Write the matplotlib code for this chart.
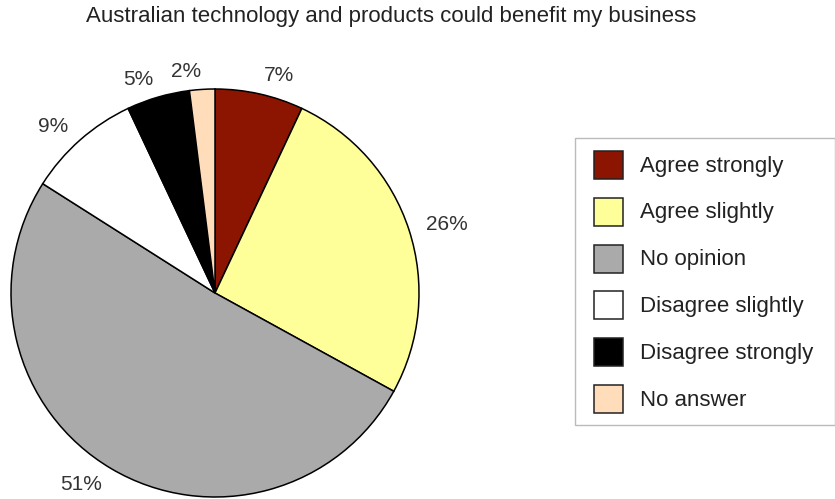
import numpy as np
import matplotlib.pyplot as plt
from matplotlib.patches import Rectangle

categories = ["Agree strongly", "Agree slightly", "No opinion",
              "Disagree slightly", "Disagree strongly", "No answer"]
shares = [7, 26, 51, 9, 5, 2]
colors = ["#8B1500", "#FFFF99", "#AAAAAA", "#FFFFFF", "#000000", "#FFDDBB"]

plt.rcParams["font.family"] = ["Liberation Sans", "DejaVu Sans"]

W, H = 835, 499
fig = plt.figure(figsize=(W / 100, H / 100), dpi=100)
ax = fig.add_axes([0, 0, 1, 1])

# pie drawn in pixel units, clockwise from 12 o'clock
cx, cy, r = 215, H - 293, 204
wedges, texts, autotexts = ax.pie(
    shares, colors=colors, startangle=90, counterclock=False,
    center=(cx, cy), radius=r, frame=True,
    autopct=lambda p: f"{p:.0f}%", pctdistance=1.09,
    wedgeprops=dict(edgecolor="black", linewidth=1.1),
    textprops=dict(fontsize=15, color="#333333"),
)
# anchor percentage labels on the side facing the pie
for t in autotexts:
    x, _ = t.get_position()
    t.set_ha("left" if x >= cx else "right")

ax.set_xlim(0, W)
ax.set_ylim(0, H)
ax.set_aspect("equal")
ax.axis("off")

ax.text(391, H - 16, "Australian technology and products could benefit my business",
        ha="center", va="center", fontsize=16, color="#222222")

# legend box
ax.add_patch(Rectangle((575, H - 425), 260, 287, facecolor="white",
                       edgecolor="#BBBBBB", linewidth=1))
for i, (name, c) in enumerate(zip(categories, colors)):
    yc = H - (165 + i * 46.8)
    ax.add_patch(Rectangle((594, yc - 14), 29, 28, facecolor=c,
                           edgecolor="#222222", linewidth=1.1))
    ax.text(640, yc - 1, name, ha="left", va="center", fontsize=16, color="#222222")

fig.savefig("out.png", dpi=100)
